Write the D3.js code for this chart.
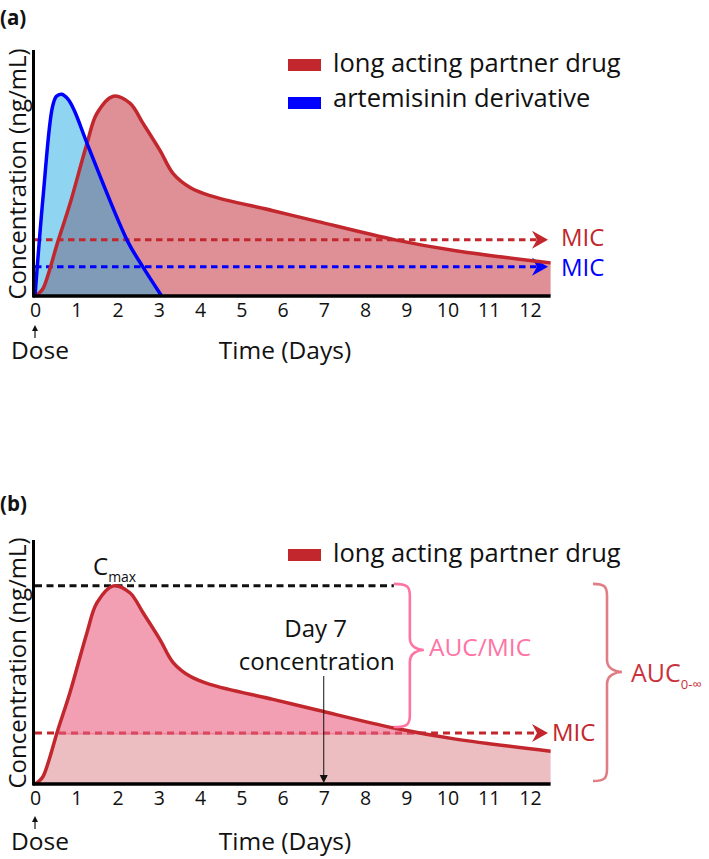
<!DOCTYPE html>
<html><head><meta charset="utf-8">
<script src="https://cdn.jsdelivr.net/npm/d3@7"></script>
<style>
body{margin:0;background:#fff}
svg{display:block}
text{font-family:"Open Sans",sans-serif}
</style>
</head><body>
<svg id="chart" width="709" height="859"></svg>
<script>
// ---------- data ----------
const partnerDays = [0,0.1,0.2,0.56,0.85,1.26,1.5,1.9,2.3,2.62,3.03,3.35,3.76,4.24,5.77,6.84,8.73,10.2,12.5];
const partnerConc = [0,1.5,4,27.8,46.6,76.9,92,100.7,97.2,87,73.4,61.7,54.7,50.6,43,37.6,28.3,22.8,16.7];
const artemDays = [0,0.2,0.42,0.52,0.65,0.8,0.95,1.3,2.24,2.6,3.07];
const artemConc = [0,51,95,100.7,101.7,99.2,93.6,74.9,27.8,15.2,0];
const tickDays = [0,1,2,3,4,5,6,7,8,9,10,11,12];
const micPartnerA = 28.3;
const micArtemA = 14.7;
const micPartnerB = 25.9;
const seriesNames = ["long acting partner drug", "artemisinin derivative"];
const day7 = 7;

const partner = partnerDays.map((d,i)=>[d, partnerConc[i]]);
const artem = artemDays.map((d,i)=>[d, artemConc[i]]);
const cmax = d3.max(partnerConc);

const RED = "#c1272d", BLUE = "#0000ff";

const svg = d3.select("#chart");
const defs = svg.append("defs");

const x = d3.scaleLinear().domain([0, 12.5]).range([35, 550.6]);
const yA = d3.scaleLinear().domain([0, 124]).range([296, 50]);
const yB = d3.scaleLinear().domain([0, 124]).range([784, 540]);
const curve = d3.curveCatmullRom.alpha(0.5);

function areaGen(y){ return d3.area().x(d=>x(d[0])).y0(y(0)).y1(d=>Math.min(y(0), y(d[1]))).curve(curve); }
function lineGen(y){ return d3.line().x(d=>x(d[0])).y(d=>y(d[1])).curve(curve); }

function arrowHead(g, tipX, tipY, color){
  g.append("path")
   .attr("d", `M${tipX},${tipY} L${tipX-16},${tipY-9} L${tipX-11},${tipY} L${tipX-16},${tipY+9} Z`)
   .attr("fill", color);
}
function micLine(g, y, val, color){
  g.append("line").attr("x1", x(0)).attr("x2", 537).attr("y1", y(val)).attr("y2", y(val))
   .attr("stroke", color).attr("stroke-width", 3).attr("stroke-dasharray", "6.5,4.5");
  arrowHead(g, 548, y(val), color);
}
function axes(g, y, offset){
  g.append("g").attr("transform", `translate(0,${y(0)})`)
   .call(d3.axisBottom(x).tickValues(tickDays).tickSize(0).tickPadding(7).tickFormat(d3.format("d")))
   .call(s=>{
     s.select(".domain").attr("stroke","#000").attr("stroke-width",3.5).attr("d", `M33,0H${x(12.5)}`);
     s.selectAll("text").attr("font-size",19.5).attr("font-family","Open Sans, sans-serif").attr("fill","#111");
   });
  // y label (drawn before axis line)
  g.append("text").attr("transform", `translate(25.5,${(y(0)+y.range()[1])/2 + 1}) rotate(-90)`)
   .attr("text-anchor","middle").attr("font-size",24).attr("fill","#111").text("Concentration (ng/mL)");
  g.append("g").attr("transform", `translate(33.5,0)`)
   .call(d3.axisLeft(y).tickValues([]).tickSizeOuter(0))
   .call(s=>s.select(".domain").attr("stroke","#000").attr("stroke-width",3).attr("d", `M0,${y(0)+1.5}V${y.range()[1]}`));
  // x label
  g.append("text").attr("x",285).attr("y",359+offset).attr("text-anchor","middle")
   .attr("font-size",24.5).attr("fill","#111").text("Time (Days)");
  g.append("text").attr("x",40).attr("y",359+offset).attr("text-anchor","middle")
   .attr("font-size",24.5).attr("fill","#111").text("Dose");
  // dose arrow
  g.append("line").attr("x1",x(0)).attr("x2",x(0)).attr("y1",338+offset).attr("y2",329+offset)
   .attr("stroke","#111").attr("stroke-width",1.2);
  g.append("path").attr("d",`M${x(0)},${325+offset} L${x(0)-3},${331+offset} L${x(0)+3},${331+offset} Z`).attr("fill","#111");
}

// ================= Panel (a) =================
const gA = svg.append("g");
gA.append("text").attr("x",0).attr("y",25).attr("font-size",20.5).attr("font-weight","bold").attr("fill","#111").text("(a)");

const redAreaA = areaGen(yA)(partner);
const blueAreaA = areaGen(yA)(artem);
defs.append("clipPath").attr("id","redClipA").append("path").attr("d", redAreaA);

gA.append("path").attr("d", redAreaA).attr("fill","#df9096");
gA.append("path").attr("d", blueAreaA).attr("fill","#8fd4f0");
gA.append("path").attr("d", blueAreaA).attr("fill","#7f9bb7").attr("clip-path","url(#redClipA)");

micLine(gA, yA, micPartnerA, RED);
micLine(gA, yA, micArtemA, BLUE);

gA.append("path").attr("d", lineGen(yA)(partner)).attr("fill","none").attr("stroke",RED).attr("stroke-width",3.5);
gA.append("path").attr("d", lineGen(yA)(artem)).attr("fill","none").attr("stroke",BLUE).attr("stroke-width",3.5);

axes(gA, yA, 0);

gA.append("text").attr("x",561).attr("y",yA(micPartnerA)+6).attr("font-size",24).attr("fill",RED).text("MIC");
gA.append("text").attr("x",561).attr("y",yA(micArtemA)+9).attr("font-size",24).attr("fill",BLUE).text("MIC");

// legend a
[[RED,59,72],[BLUE,97,107]].forEach((c,i)=>{
  gA.append("rect").attr("x",288).attr("y",c[1]).attr("width",33).attr("height",12).attr("fill",c[0]);
  gA.append("text").attr("x",333).attr("y",c[2]).attr("font-size",25.5).attr("fill","#111").text(seriesNames[i]);
});

// ================= Panel (b) =================
const gB = svg.append("g");
gB.append("text").attr("x",0).attr("y",511).attr("font-size",20.5).attr("font-weight","bold").attr("fill","#111").text("(b)");

const areaB = areaGen(yB)(partner);
const yMic = yB(micPartnerB);
defs.append("clipPath").attr("id","belowMic").append("rect").attr("x",0).attr("y",yMic).attr("width",709).attr("height",200);
defs.append("clipPath").attr("id","aboveMic").append("rect").attr("x",0).attr("y",0).attr("width",709).attr("height",yMic+1.5);

gB.append("path").attr("d", areaB).attr("fill","#ecbdc1").attr("clip-path","url(#belowMic)");
// MIC line under translucent fill
gB.append("line").attr("x1", x(0)).attr("x2", 537).attr("y1", yMic).attr("y2", yMic)
  .attr("stroke", RED).attr("stroke-width", 3).attr("stroke-dasharray", "7,5");
arrowHead(gB, 548, yMic, RED);
gB.append("path").attr("d", areaB).attr("fill","#e95f82").attr("fill-opacity",0.6).attr("clip-path","url(#aboveMic)");

// Cmax dashed line
gB.append("line").attr("x1", x(0)).attr("x2", x(8.7)).attr("y1", yB(cmax)).attr("y2", yB(cmax))
  .attr("stroke","#111").attr("stroke-width",3).attr("stroke-dasharray","7,4.5");

gB.append("path").attr("d", lineGen(yB)(partner)).attr("fill","none").attr("stroke",RED).attr("stroke-width",3.5);

axes(gB, yB, 491);

gB.append("text").attr("x",552).attr("y",yMic+8).attr("font-size",24).attr("fill",RED).text("MIC");

// Cmax label
const cm = gB.append("text").attr("x",93).attr("y",575).attr("fill","#111");
cm.append("tspan").attr("font-size",24).text("C");
cm.append("tspan").attr("font-size",14).attr("dy",7).text("max");

// Day 7 annotation
gB.append("text").attr("x",x(day7)-8).attr("y",637).attr("text-anchor","middle").attr("font-size",24).attr("fill","#111").text("Day 7");
gB.append("text").attr("x",x(day7)-7).attr("y",670).attr("text-anchor","middle").attr("font-size",24).attr("fill","#111").text("concentration");
gB.append("line").attr("x1",x(day7)).attr("x2",x(day7)).attr("y1",676).attr("y2",778).attr("stroke","#111").attr("stroke-width",1);
gB.append("path").attr("d",`M${x(day7)},${yB(0)-1} L${x(day7)-4},${yB(0)-9} L${x(day7)+4},${yB(0)-9} Z`).attr("fill","#111");

// legend b
gB.append("rect").attr("x",288).attr("y",549).attr("width",33).attr("height",12).attr("fill",RED);
gB.append("text").attr("x",333).attr("y",562).attr("font-size",25.5).attr("fill","#111").text(seriesNames[0]);

// braces
function bracePath(x0, xv, xt, yTop, yTip, yBot){
  const r = 12;
  return `M${x0},${yTop} C${xv-2},${yTop} ${xv},${yTop+3} ${xv},${yTop+r}`+
         ` L${xv},${yTip-r} C${xv},${yTip-3} ${xt-6},${yTip} ${xt},${yTip}`+
         ` C${xt-6},${yTip} ${xv},${yTip+3} ${xv},${yTip+r}`+
         ` L${xv},${yBot-r} C${xv},${yBot-3} ${xv-2},${yBot} ${x0},${yBot}`;
}
gB.append("path").attr("d", bracePath(x(8.7), x(8.7)+16, x(8.7)+30, yB(cmax)-2, 650, yMic-6))
  .attr("fill","none").attr("stroke","#ff74a4").attr("stroke-width",2.6);
gB.append("text").attr("x",429).attr("y",656).attr("font-size",24.5).attr("fill","#ff74a4").text("AUC/MIC");

gB.append("path").attr("d", bracePath(593, 607, 622, yB(cmax)-2, 672, yB(0)-3))
  .attr("fill","none").attr("stroke","#e07d85").attr("stroke-width",2.6);
const auc = gB.append("text").attr("x",631).attr("y",682).attr("fill","#c8323c");
auc.append("tspan").attr("font-size",25).text("AUC");
auc.append("tspan").attr("font-size",13).attr("dy",7).text("0-∞");
</script>
</body></html>
